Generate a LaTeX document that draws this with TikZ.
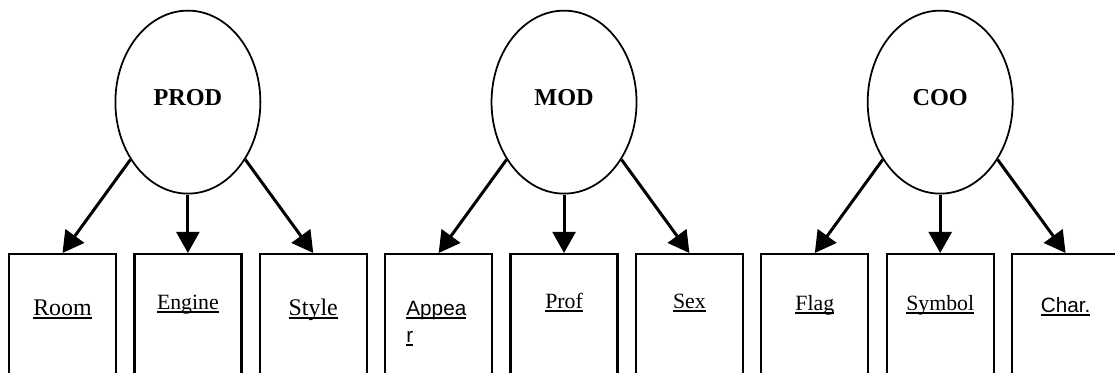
\documentclass[tikz,border=0pt]{standalone}
\usepackage{fontspec}
\setmainfont{Liberation Serif}
\newfontfamily\wordsans{Liberation Sans}
\usetikzlibrary{
  arrows.meta,
  positioning,
  shapes.geometric
}
% underline at a fixed depth below the baseline
\newcommand\uword[1]{\setbox0\hbox{#1}\rlap{\rule[-2pt]{\wd0}{0.85pt}}\box0}

\begin{document}
\begin{tikzpicture}[
    node distance=1.17cm and 0.322cm,
    oval/.style={draw, ellipse, line width=1pt, minimum width=2.9cm,
                 minimum height=3.66cm, inner sep=0pt, text depth=0.18cm,
                 font=\fontsize{13.8}{16}\selectfont\bfseries},
    box/.style={draw, rectangle, line width=1.3pt, minimum width=2.14cm,
                minimum height=3cm, inner sep=0pt},
    word/.style={anchor=base, inner sep=0pt,
                 font=\fontsize{12.4}{15}\selectfont},
    bigword/.style={word, font=\fontsize{13.6}{16}\selectfont},
    sansword/.style={inner sep=0pt, font=\fontsize{11.8}{15.4}\selectfont\wordsans},
    arr/.style={-{Triangle[length=12pt, width=13pt]}, line width=1.7pt},
  ]
  \useasboundingbox (0,0) rectangle (22.3,-7.44);
  \clip (0,0) rectangle (22.3,-7.44);

  % ---- Attribute boxes ----
  \node[box, anchor=north] (room) at (1.25,-5.06) {};
  \node[box, right=of room] (engine) {};
  \node[box, right=of engine] (style) {};
  \node[box, right=of style] (appear) {};
  \node[box, right=of appear] (prof) {};
  \node[box, right=of prof] (sex) {};
  \node[box, right=of sex] (flag) {};
  \node[box, right=of flag] (symbol) {};
  \node[box, right=of symbol] (char) {};

  % ---- Categories ----
  \node[oval, above=of engine] (prod) {PROD};
  \node[oval, above=of prof] (mod) {MOD};
  \node[oval, above=of symbol] (coo) {COO};

  % ---- Box labels ----
  \node[bigword] (roomtxt) at ([yshift=-1.24cm]room.north) {\uword{Room}};
  \node[word] (enginetxt) at ([yshift=-1.12cm]engine.north) {\uword{Engine}};
  \node[bigword] (styletxt) at ([yshift=-1.24cm]style.north) {\uword{Style}};
  \node[sansword, align=left, anchor=north west] (appeartxt)
    at ([xshift=0.44cm, yshift=-0.95cm]appear.north west)
    {\uword{Appea}\\\uword{r}};
  \node[word] (proftxt) at ([yshift=-1.10cm]prof.north) {\uword{Prof}};
  \node[word] (sextxt) at ([yshift=-1.10cm]sex.north) {\uword{Sex}};
  \node[word] (flagtxt) at ([yshift=-1.14cm]flag.north) {\uword{Flag}};
  \node[word] (symboltxt) at ([yshift=-1.14cm]symbol.north) {\uword{Symbol}};
  \node[sansword, anchor=base] (chartxt) at ([yshift=-1.18cm]char.north)
    {\uword{Char.}};

  % ---- Arrows ----
  \draw[arr] (prod.225) -- (room.north);
  \draw[arr] (prod.south) -- (engine.north);
  \draw[arr] (prod.315) -- (style.north);
  \draw[arr] (mod.225) -- (appear.north);
  \draw[arr] (mod.south) -- (prof.north);
  \draw[arr] (mod.315) -- (sex.north);
  \draw[arr] (coo.225) -- (flag.north);
  \draw[arr] (coo.south) -- (symbol.north);
  \draw[arr] (coo.315) -- (char.north);

\end{tikzpicture}
\end{document}
